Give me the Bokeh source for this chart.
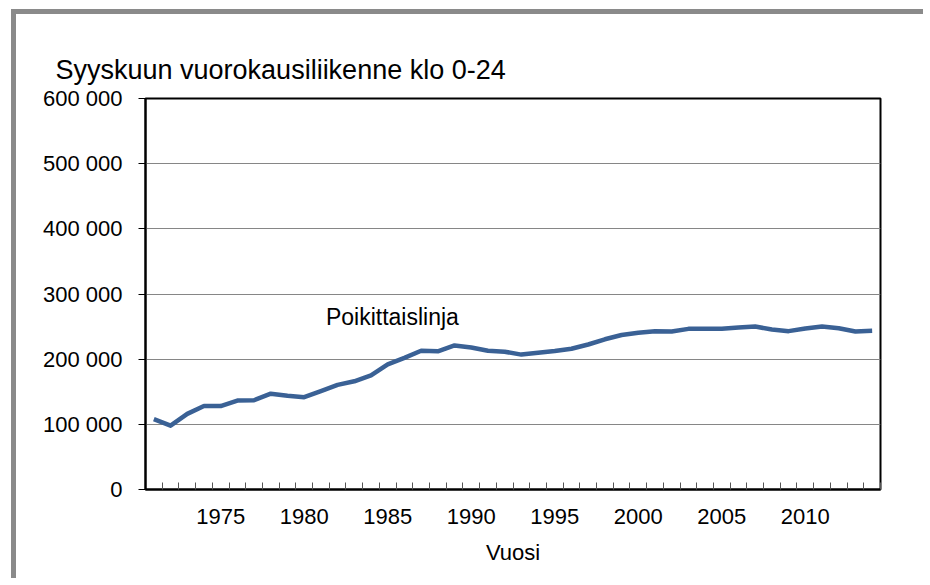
from bokeh.plotting import figure
from bokeh.models import FixedTicker, Range1d, Label, ColumnDataSource
from bokeh.embed import file_html
from bokeh.resources import INLINE

years = list(range(1971, 2015))
traffic = [108000, 98000, 116000, 128000, 128000, 136500, 137000, 147000, 144000, 141700,
           151000, 160500, 166000, 175000, 192000, 202000, 213000, 212000, 221000, 218000,
           213000, 211500, 207000, 210000, 212500, 216000, 222500, 230500, 237000, 240500,
           243000, 242500, 246500, 246500, 246500, 248500, 250000, 245500, 243000, 247000,
           250000, 247500, 242500, 243500]
series_name = "Poikittaislinja"
title_text = "Syyskuun vuorokausiliikenne klo 0-24"
x_label = "Vuosi"
x_tick_years = [1975, 1980, 1985, 1990, 1995, 2000, 2005, 2010]
y_ticks = [0, 100000, 200000, 300000, 400000, 500000, 600000]
y_tick_labels = ["0", "100 000", "200 000", "300 000", "400 000", "500 000", "600 000"]

FONT = "Liberation Sans"

p = figure(width=912, height=569, output_backend="svg", toolbar_location=None,
           x_range=Range1d(1970.5, 2014.5), y_range=Range1d(0, 600000),
           title=title_text)
p.min_border_left = 129
p.min_border_top = 84
p.min_border_right = 48
p.min_border_bottom = 94
p.styles = {"margin-left": "11px", "margin-top": "9px",
            "border-left": "5px solid #8a8a8a", "border-top": "5px solid #8a8a8a"}

p.title.align = "left"
p.title.offset = -90
p.title.text_font = FONT
p.title.text_font_size = "27px"
p.title.text_font_style = "normal"
p.title.text_color = "black"
p.title.standoff = 28

p.outline_line_color = "black"
p.outline_line_width = 2
p.xgrid.visible = False
p.ygrid.grid_line_color = "#868686"
p.ygrid.grid_line_width = 1
p.ygrid.ticker = FixedTicker(ticks=y_ticks)

# x axis
p.xaxis.ticker = FixedTicker(ticks=x_tick_years,
                             minor_ticks=[y - 0.5 for y in years] + [years[-1] + 0.5])
p.xaxis.major_tick_in = 0
p.xaxis.major_tick_out = 0
p.xaxis.minor_tick_in = 7
p.xaxis.minor_tick_out = 0
p.xaxis.minor_tick_line_color = "#555555"
p.xaxis.axis_line_color = "black"
p.xaxis.axis_line_width = 2
p.xaxis.major_label_standoff = 19
p.xaxis.major_label_text_font = FONT
p.xaxis.major_label_text_font_size = "22px"
p.xaxis.major_label_text_color = "black"
p.xaxis.axis_label = x_label
p.xaxis.axis_label_text_font = FONT
p.xaxis.axis_label_text_font_size = "22px"
p.xaxis.axis_label_text_font_style = "normal"
p.xaxis.axis_label_text_color = "black"
p.xaxis.axis_label_standoff = 13

# y axis
p.yaxis.ticker = FixedTicker(ticks=y_ticks)
p.yaxis.major_label_overrides = {t: lab for t, lab in zip(y_ticks, y_tick_labels)}
p.yaxis.major_tick_in = 0
p.yaxis.major_tick_out = 7
p.yaxis.minor_tick_line_color = None
p.yaxis.major_tick_line_color = "black"
p.yaxis.axis_line_color = "black"
p.yaxis.axis_line_width = 2
p.yaxis.major_label_standoff = 16
p.yaxis.major_label_text_font = FONT
p.yaxis.major_label_text_font_size = "22px"
p.yaxis.major_label_text_color = "black"

src = ColumnDataSource(dict(x=years, y=traffic))
p.line("x", "y", source=src, line_color="#3A6195", line_width=4.5, line_join="round")

p.add_layout(Label(x=1981.3, y=265000, text=series_name, text_font=FONT,
                   text_font_size="23px", text_color="black", text_baseline="middle"))

open("out.html", "w").write(file_html(p, INLINE))
